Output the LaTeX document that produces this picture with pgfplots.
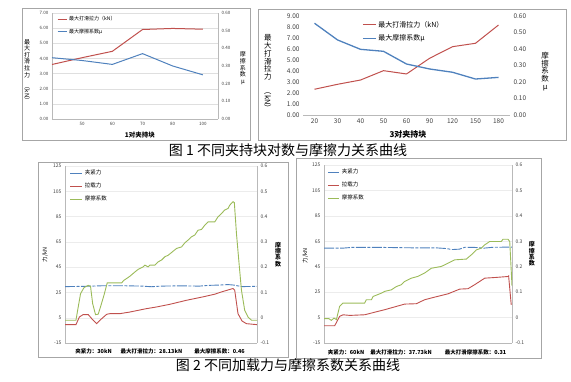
\documentclass[border=0pt]{standalone}
\usepackage{graphicx}
\usepackage{pgfplots}
\pgfplotsset{compat=1.18}
\usepackage{fontspec}
\setmainfont{Noto Sans CJK SC}
\definecolor{exred}{HTML}{C0504D}
\definecolor{exblue}{HTML}{4F81BD}
\definecolor{exgreen}{HTML}{9BBB59}
\definecolor{frame}{HTML}{A6A6A6}
\pgfplotsset{
  every axis/.append style={scale only axis, anchor=north west,
    /pgf/number format/assume math mode=true,
    axis line style={draw=gray!55, line width=0.5pt},
    major tick length=0pt, tick label style={text=black!75}},
  mylegend/.style={legend style={draw=none, fill=none, inner sep=0pt, legend cell align=left, row sep=#1}},
  fixed2/.style={yticklabel style={/pgf/number format/.cd, fixed, fixed zerofill, precision=2}},
  bluedash/.style={exblue, line width=0.9pt, dash pattern=on 10pt off 1.5pt on 3pt off 1.5pt},
}
\begin{document}
\begin{tikzpicture}
\path[use as bounding box] (0pt,0pt) rectangle (571pt,-382pt);
\draw[frame, line width=0.6pt] (22pt,-8pt) rectangle (250pt,-140pt);
\draw[frame, line width=0.6pt] (258pt,-9pt) rectangle (566pt,-140pt);
\draw[frame, line width=0.6pt] (38pt,-162pt) rectangle (288pt,-357pt);
\draw[frame, line width=0.6pt] (296pt,-158pt) rectangle (541pt,-358pt);

% ---------------- Panel 1 ----------------
\begin{axis}[at={(52pt,-13pt)}, width=166pt, height=106pt,
  xmin=0, xmax=5.5, ymin=0, ymax=7, ytick={0,1,2,3,4,5,6,7},
  xtick={1,2,3,4,5}, xticklabels={50,60,70,80,100},
  axis y line*=left, axis x line*=bottom, fixed2,
  ymajorgrids, major grid style={gray!25, line width=0.4pt},
  tick label style={font=\fontsize{4.5}{5}\selectfont},
  xlabel={1对夹持块},
  xlabel style={font=\fontsize{6.5}{7}\selectfont\bfseries, at={(axis description cs:0.53,-0.15)}, anchor=center},
  ylabel={最\\大\\打\\滑\\拉\\力\\\rotatebox{-90}{（kN）}},
  ylabel style={rotate=-90, align=center, font=\fontsize{6}{6.6}\selectfont, at={(axis description cs:-0.15,0.45)}, anchor=center}]
\addplot[exred, line width=1pt] coordinates {(0,3.6)(1,4.05)(2,4.47)(3,5.91)(4,5.98)(5,5.93)};
\end{axis}
\begin{axis}[at={(52pt,-13pt)}, width=166pt, height=106pt,
  xmin=0, xmax=5.5, ymin=0, ymax=0.6, ytick={0,0.1,0.2,0.3,0.4,0.5,0.6},
  axis y line*=right, axis x line=none, fixed2,
  tick label style={font=\fontsize{4.5}{5}\selectfont},
  ylabel={摩\\擦\\系\\数\\μ},
  ylabel style={rotate=-90, align=center, font=\fontsize{6}{6.6}\selectfont, at={(axis description cs:1.15,0.48)}, anchor=center},
  mylegend=3pt, legend style={at={(0.03,0.99)}, anchor=north west, font=\fontsize{5}{5.5}\selectfont},
  legend image code/.code={\draw[#1] (0pt,0pt) -- (9pt,0pt);}]
\addlegendimage{exred, line width=1pt}\addlegendentry{最大打滑拉力（kN）}
\addplot[exblue, line width=1pt] coordinates {(0,0.347)(1,0.331)(2,0.309)(3,0.37)(4,0.30)(5,0.25)};
\addlegendentry{最大摩擦系数μ}
\end{axis}

% ---------------- Panel 2 ----------------
\begin{axis}[at={(303pt,-16pt)}, width=207pt, height=99pt,
  xmin=-0.5, xmax=8.5, ymin=0, ymax=9, ytick={0,1,2,3,4,5,6,7,8,9},
  xtick={0,1,2,3,4,5,6,7,8}, xticklabels={20,30,40,50,60,90,120,150,180},
  axis y line*=left, axis x line*=bottom, fixed2,
  y axis line style={draw=none},
  tick label style={font=\fontsize{6.5}{7}\selectfont},
  xlabel={3对夹持块},
  xlabel style={font=\fontsize{8}{8}\selectfont\bfseries, at={(axis description cs:0.507,-0.2)}, anchor=center},
  ylabel={最\\大\\打\\滑\\拉\\力\\\rotatebox{-90}{（kN）}},
  ylabel style={rotate=-90, align=center, font=\fontsize{7.5}{7.8}\selectfont, at={(axis description cs:-0.17,0.42)}, anchor=center}]
\addplot[exred, line width=1pt] coordinates {(0,2.34)(1,2.79)(2,3.18)(3,4.03)(4,3.73)(5,5.15)(6,6.21)(7,6.52)(8,8.18)};
\end{axis}
\begin{axis}[at={(303pt,-16pt)}, width=207pt, height=99pt,
  xmin=-0.5, xmax=8.5, ymin=0, ymax=0.6, ytick={0,0.1,0.2,0.3,0.4,0.5,0.6},
  axis y line*=right, axis x line=none, fixed2,
  y axis line style={draw=none},
  tick label style={font=\fontsize{6.5}{7}\selectfont},
  ylabel={摩\\擦\\系\\数\\μ},
  ylabel style={rotate=-90, align=center, font=\fontsize{7.5}{7.8}\selectfont, at={(axis description cs:1.17,0.44)}, anchor=center},
  mylegend=2pt, legend style={at={(0.285,0.97)}, anchor=north west, font=\fontsize{7}{7.5}\selectfont},
  legend image code/.code={\draw[#1] (0pt,0pt) -- (13pt,0pt);}]
\addlegendimage{exred, line width=1pt}\addlegendentry{最大打滑拉力（kN）}
\addplot[exblue, line width=1.3pt] coordinates {(0,0.556)(1,0.455)(2,0.398)(3,0.386)(4,0.309)(5,0.279)(6,0.259)(7,0.218)(8,0.228)};
\addlegendentry{最大摩擦系数μ}
\end{axis}

% ---------------- Panel 3 ----------------
\begin{axis}[at={(65pt,-166pt)}, width=192pt, height=177pt,
  xmin=0, xmax=100, ymin=-15, ymax=125, ytick={-15,5,25,45,65,85,105,125}, xtick=\empty,
  axis y line*=left, axis x line*=bottom,
  ymajorgrids, major grid style={gray!15, line width=0.4pt},
  tick label style={font=\fontsize{5}{5}\selectfont},
  ylabel={力/kN}, ylabel style={font=\fontsize{5.5}{6}\selectfont, at={(axis description cs:-0.104,0.497)}, anchor=center},
  xlabel={夹紧力：30kN\hspace{9pt}最大打滑拉力：28.13kN\hspace{12pt}最大摩擦系数：0.46},
  xlabel style={font=\fontsize{5.5}{6}\selectfont\bfseries, at={(axis description cs:0.495,-0.045)}, anchor=center}]
\addplot[bluedash] coordinates {(0,29.6)(10,29.8)(20,30.3)(30,30.3)(40,30)(45,29.5)(50,30)(60,30.2)(70,30)(75,30.6)(80,30.8)(85,31.2)(88,30.8)(92,29.6)(100,29.8)};
\addplot[exred, line width=0.9pt] coordinates {(0,-0.5)(5.7,-0.5)(7.5,5.6)(9.5,7.5)(12.1,7.5)(13.9,4.3)(16.5,0.3)(18.2,3)(21.7,7.7)(23.4,8.2)(28.6,8.2)(33.8,9.5)(42.5,12.2)(47.7,13.5)(54.6,15.6)(63.3,18.8)(71.9,21.5)(78,23.6)(81.5,25.4)(87.5,28.1)(88.4,26.7)(90.1,8.2)(92.2,2.4)(94.5,0.3)(100,-0.5)};
\end{axis}
\begin{axis}[at={(65pt,-166pt)}, width=192pt, height=177pt,
  xmin=0, xmax=100, ymin=-0.1, ymax=0.6, ytick={-0.1,0,0.1,0.2,0.3,0.4,0.5,0.6},
  axis y line*=right, axis x line=none,
  tick label style={font=\fontsize{5}{5}\selectfont},
  ylabel={摩\\擦\\系\\数},
  ylabel style={rotate=-90, align=center, font=\fontsize{6}{6.4}\selectfont\bfseries, at={(axis description cs:1.11,0.5)}, anchor=center},
  mylegend=3pt, legend style={at={(0.025,0.99)}, anchor=north west, font=\fontsize{5.5}{6}\selectfont},
  legend image code/.code={\draw[#1] (0pt,0pt) -- (12pt,0pt);}]
\addlegendimage{exblue, line width=1pt}\addlegendentry{夹紧力}
\addlegendimage{exred, line width=1pt}\addlegendentry{拉载力}
\addplot[exgreen, line width=0.9pt] coordinates {(0,-0.010)(5.7,-0.010)(6.9,0.043)(8.1,0.095)(9.9,0.119)(12.1,0.128)(13.3,0.124)(14.4,0.056)(15.9,0.012)(17.3,0.014)(18.5,0.043)(20.3,0.089)(22.0,0.138)(29.5,0.138)(30.7,0.148)(32.1,0.155)(33.8,0.164)(35.5,0.175)(36.9,0.184)(38.1,0.191)(40.7,0.201)(41.6,0.208)(43.3,0.201)(44.2,0.208)(46.8,0.208)(48.5,0.221)(50.3,0.228)(52.0,0.241)(53.7,0.247)(56.0,0.261)(58.1,0.274)(60.7,0.280)(62.4,0.296)(64.1,0.307)(65.9,0.320)(67.6,0.327)(69.3,0.346)(71.1,0.349)(72.8,0.366)(74.5,0.379)(78.0,0.379)(79.7,0.399)(81.5,0.412)(83.2,0.426)(84.9,0.432)(85.8,0.445)(87.5,0.459)(88.2,0.455)(89.3,0.333)(90.5,0.228)(91.9,0.109)(93.6,0.029)(95.3,0.003)(97.1,-0.010)(100,-0.010)};
\addlegendentry{摩擦系数}
\end{axis}

% ---------------- Panel 4 ----------------
\begin{axis}[at={(324pt,-165pt)}, width=188pt, height=178pt,
  xmin=0, xmax=100, ymin=-15, ymax=125, ytick={-15,5,25,45,65,85,105,125}, xtick=\empty,
  axis y line*=left, axis x line*=bottom,
  ymajorgrids, major grid style={gray!15, line width=0.4pt},
  tick label style={font=\fontsize{5}{5}\selectfont},
  ylabel={力/kN}, ylabel style={font=\fontsize{5.5}{6}\selectfont, at={(axis description cs:-0.10,0.49)}, anchor=center},
  xlabel={夹紧力：60kN\hspace{6pt}最大打滑拉力：37.73kN\hspace{13pt}最大打滑摩擦系数：0.31},
  xlabel style={font=\fontsize{5.5}{6}\selectfont\bfseries, at={(axis description cs:0.495,-0.05)}, anchor=center}]
\addplot[bluedash] coordinates {(0,59.6)(10,59.6)(15,60.2)(30,60.2)(50,59.8)(60,59.8)(65,59.3)(68,58.5)(72,58.8)(75,60.3)(80,60.2)(85,59.6)(90,60.3)(100,60.4)};
\addplot[exred, line width=0.9pt] coordinates {(0,-1.4)(5.7,-1.4)(8.3,5.9)(10.1,7.2)(13.7,6.7)(21.6,7.2)(32.3,11.2)(42.9,15.6)(49.1,15.9)(53.5,19)(58.9,21.1)(66,23.7)(72.2,27.4)(76.6,27.7)(80.1,30.8)(85.5,36)(90.8,36.5)(97.9,37.3)(98.2,37.7)(99.6,15)};
\end{axis}
\begin{axis}[at={(324pt,-165pt)}, width=188pt, height=178pt,
  xmin=0, xmax=100, ymin=-0.1, ymax=0.6, ytick={-0.1,0,0.1,0.2,0.3,0.4,0.5,0.6},
  axis y line*=right, axis x line=none,
  tick label style={font=\fontsize{5}{5}\selectfont},
  ylabel={摩\\擦\\系\\数},
  ylabel style={rotate=-90, align=center, font=\fontsize{6}{6.4}\selectfont\bfseries, at={(axis description cs:1.106,0.5)}, anchor=center},
  mylegend=3pt, legend style={at={(0.02,0.99)}, anchor=north west, font=\fontsize{5.5}{6}\selectfont},
  legend image code/.code={\draw[#1] (0pt,0pt) -- (11pt,0pt);}]
\addlegendimage{exblue, line width=1pt}\addlegendentry{夹紧力}
\addlegendimage{exred, line width=1pt}\addlegendentry{拉载力}
\addplot[exgreen, line width=0.9pt] coordinates {(0,-0.004)(2.5,-0.004)(3.9,-0.011)(5.3,-0.002)(6.6,-0.008)(8.3,0.044)(10.1,0.057)(21.6,0.057)(22.5,0.070)(25.2,0.070)(26.1,0.083)(30.5,0.096)(32.3,0.103)(35.8,0.109)(38.5,0.122)(41.1,0.129)(42.9,0.142)(46.5,0.155)(50,0.162)(53.5,0.175)(57.1,0.194)(62.4,0.201)(66,0.214)(69.5,0.227)(75.7,0.230)(78.4,0.247)(81,0.266)(83.7,0.273)(85.5,0.286)(88.1,0.299)(94.3,0.299)(95.2,0.308)(97.9,0.308)(98.8,0.299)(100,0.125)};
\addlegendentry{摩擦系数}
\end{axis}

\node[font=\fontsize{14}{14}\selectfont, anchor=center] at (288pt,-150pt) {图 1 不同夹持块对数与摩擦力关系曲线};
\node[font=\fontsize{14}{14}\selectfont, anchor=center] at (288pt,-365pt) {图 2 不同加载力与摩擦系数关系曲线};
\end{tikzpicture}
\end{document}
